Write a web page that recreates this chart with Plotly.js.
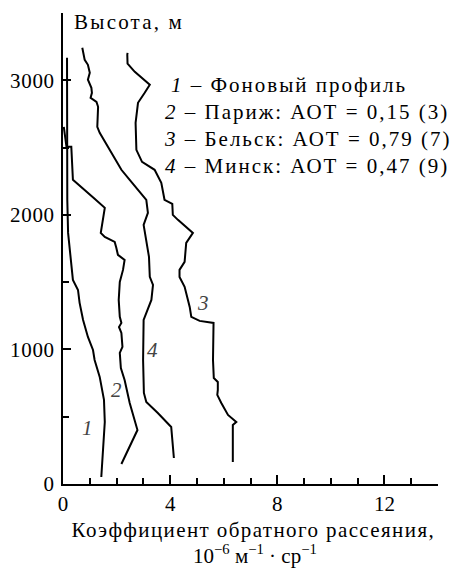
<!DOCTYPE html>
<html>
<head>
<meta charset="utf-8">
<script src="https://cdn.plot.ly/plotly-3.0.1.min.js"></script>
<style>
html,body{margin:0;padding:0;background:#fff;}
#chart{width:474px;height:568px;}
#chart text{font-family:'Liberation Serif' !important;}
</style>
</head>
<body>
<div id="chart"></div>
<script>
// Series: backscatter coefficient (10^-6 m^-1 sr^-1) vs height (m)
const bgX = [1.43, 1.49, 1.56, 1.53, 1.37, 1.18, 1.12, 0.93, 0.75, 0.62, 0.56, 0.37, 0.31, 0.25, 0.19, 0.16, 0.15, 0.15];
const bgY = [52, 275, 461, 625, 796, 922, 996, 1093, 1219, 1346, 1442, 1517, 1643, 1740, 1866, 2112, 2483, 3167];

const parisX = [2.18, 2.78, 2.49, 2.30, 2.16, 2.12, 2.22, 2.18, 2.09, 2.18, 2.12, 2.08, 2.12, 2.24, 2.30, 2.05, 1.99, 1.93, 1.56, 1.41, 1.56, 1.48, 1.18, 0.37, 0.31, 0.13, 0.03];
const parisY = [149, 401, 602, 773, 862, 974, 1019, 1123, 1167, 1197, 1242, 1368, 1502, 1591, 1665, 1703, 1755, 1799, 1836, 1866, 2052, 2067, 2119, 2260, 2506, 2506, 2654];

const belskX = [6.34, 6.34, 6.47, 6.16, 5.91, 5.76, 5.78, 5.78, 5.63, 5.60, 5.62, 5.10, 4.79, 4.73, 4.54, 4.35, 4.35, 4.54, 4.60, 4.85, 4.29, 4.10, 4.08, 3.79, 3.67, 3.42, 2.95, 2.74, 2.71, 2.80, 3.05, 3.24, 2.68, 2.41, 2.40, 2.41];
const belskY = [164, 439, 461, 513, 602, 662, 699, 758, 788, 922, 1197, 1212, 1242, 1316, 1465, 1539, 1591, 1651, 1792, 1866, 1963, 2000, 2082, 2112, 2238, 2335, 2394, 2483, 2684, 2833, 2907, 2967, 3063, 3123, 3190, 3204];

const minskX = [4.14, 4.07, 4.04, 3.54, 3.11, 3.02, 2.99, 3.01, 3.11, 3.30, 3.36, 3.24, 3.21, 3.11, 3.01, 3.17, 3.11, 2.49, 2.18, 1.37, 1.28, 1.31, 1.25, 1.03, 1.08, 1.06, 0.93, 1.00, 0.93, 0.81, 0.72];
const minskY = [193, 387, 424, 528, 610, 677, 922, 1219, 1271, 1368, 1480, 1539, 1688, 1814, 1926, 2015, 2112, 2260, 2335, 2610, 2654, 2803, 2840, 2870, 2907, 2944, 3004, 3056, 3115, 3152, 3242];

const curveNums = ['1', '2', '3', '4'];
const legendTexts = [
  'Фоновый профиль',
  'Париж: АОТ = 0,15 (3)',
  'Бельск: АОТ = 0,79 (7)',
  'Минск: АОТ = 0,47 (9)'
];
const xTitleLine1 = 'Коэффициент обратного рассеяния,';
const xTitleLine2 = '10<sup>−6</sup> м<sup>−1</sup> · ср<sup>−1</sup>';
const yTitle = 'Высота, м';
const labelX = [0.92, 2.0, 5.21, 3.35];
const labelY = [416, 699, 1346, 996];

const FONT = 'Liberation Serif';
const FS = 21;
const lineStyle = {color: '#000', width: 2};

const traces = [
  {x: bgX, y: bgY},
  {x: parisX, y: parisY},
  {x: belskX, y: belskY},
  {x: minskX, y: minskY}
].map(t => Object.assign(t, {type: 'scatter', mode: 'lines', line: lineStyle, hoverinfo: 'skip', showlegend: false}));

const annotations = [];
const spacing = [];
curveNums.forEach((n, i) => {
  annotations.push({x: labelX[i], y: labelY[i], xref: 'x', yref: 'y', text: '<i>' + n + '</i>',
    showarrow: false, font: {family: FONT, size: FS, color: '#444'}});
  spacing.push(0);
});
const legY = [0.848, 0.790, 0.732, 0.676];
legendTexts.forEach((t, i) => {
  annotations.push({x: 0.334, y: legY[i], xref: 'paper', yref: 'paper', xanchor: 'left', yanchor: 'middle',
    text: '<i>' + curveNums[i] + '</i> – ' + t, showarrow: false, font: {family: FONT, size: FS, color: '#000'}});
  spacing.push(2.0);
});
annotations.push({x: 0.05, y: 0.981, xref: 'paper', yref: 'paper', xanchor: 'left', yanchor: 'middle',
  text: yTitle, showarrow: false, font: {family: FONT, size: FS, color: '#000'}});
spacing.push(2.2);
annotations.push({x: 0.508, y: -0.0983, xref: 'paper', yref: 'paper', xanchor: 'center', yanchor: 'middle',
  text: xTitleLine1, showarrow: false, font: {family: FONT, size: FS, color: '#000'}});
spacing.push(1.4);
annotations.push({x: 0.512, y: -0.150, xref: 'paper', yref: 'paper', xanchor: 'center', yanchor: 'middle',
  text: xTitleLine2, showarrow: false, font: {family: FONT, size: FS, color: '#000'}});
spacing.push(0);

const layout = {
  width: 474, height: 568,
  margin: {l: 63, r: 36, t: 13, b: 84},
  paper_bgcolor: '#fff', plot_bgcolor: '#fff',
  font: {family: FONT, size: FS, color: '#000'},
  showlegend: false,
  xaxis: {
    range: [0, 14], tickmode: 'linear', tick0: 0, dtick: 4,
    ticks: 'inside', ticklen: 9, tickwidth: 1.5, tickcolor: '#000',
    minor: {dtick: 1, tick0: 0, ticks: 'inside', ticklen: 6, tickwidth: 1.5, tickcolor: '#000'},
    showline: true, linecolor: '#000', linewidth: 2,
    showgrid: false, zeroline: false,
    tickfont: {family: FONT, size: FS, color: '#000'}
  },
  yaxis: {
    range: [0, 3500], tickmode: 'linear', tick0: 0, dtick: 1000,
    ticks: 'inside', ticklen: 8, tickwidth: 1.5, tickcolor: '#000',
    minor: {dtick: 500, tick0: 0, ticks: 'inside', ticklen: 6, tickwidth: 1.5, tickcolor: '#000'},
    showline: true, linecolor: '#000', linewidth: 2,
    showgrid: false, zeroline: false, ticklabelstandoff: 2,
    tickfont: {family: FONT, size: FS, color: '#000'}
  },
  annotations: annotations
};

Plotly.newPlot('chart', traces, layout, {displayModeBar: false}).then(gd => {
  gd.querySelectorAll('text').forEach(t => {
    t.style.setProperty('font-family', "'Liberation Serif', 'DejaVu Serif', serif", 'important');
    getComputedStyle(t).fontFamily;
  });
  gd.querySelectorAll('.annotation').forEach(g => {
    const idx = +g.getAttribute('data-index');
    const txt = g.querySelector('.annotation-text');
    if (txt && spacing[idx]) txt.style.setProperty('letter-spacing', spacing[idx] + 'px', 'important');
  });
  gd.querySelectorAll('.ytick text').forEach(t => t.style.setProperty('letter-spacing', '0.7px', 'important'));
  document.fonts && document.fonts.check('21px "Liberation Serif"');
});
</script>
</body>
</html>
